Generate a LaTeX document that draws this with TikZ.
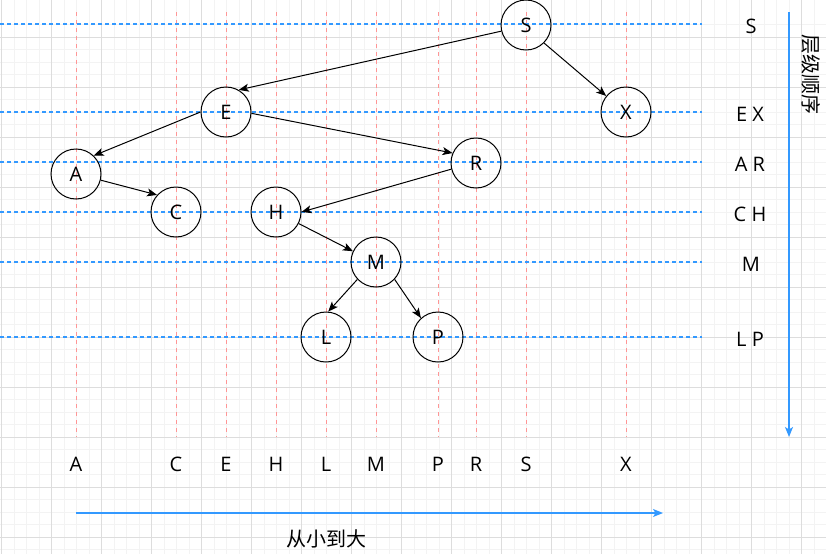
\documentclass[tikz,border=0pt]{standalone}
\usepackage{fontspec}
\setmainfont{Open Sans}
\newfontfamily\cjk{Noto Sans CJK SC}
\usetikzlibrary{arrows.meta}
\definecolor{gridmin}{RGB}{243,243,243}
\definecolor{gridmaj}{RGB}{221,221,221}
\definecolor{bluel}{RGB}{51,153,255}
\definecolor{redl}{RGB}{255,150,150}
\tikzset{
  tnode/.style={circle,draw=black,line width=1pt,minimum size=50pt,inner sep=0pt,font=\fontsize{20}{24}\selectfont},
  treeedge/.style={-{Stealth[length=10pt,width=8pt,inset=2.5pt]},line width=1pt},
  rowline/.style={draw=bluel,dash pattern=on 4pt off 3pt,line width=1.2pt},
  colline/.style={draw=redl,dash pattern=on 4pt off 4pt,line width=0.8pt},
  lbl/.style={font=\fontsize{20}{24}\selectfont,inner sep=0pt},
  cjklbl/.style={font=\cjk\fontsize{20}{24}\selectfont,inner sep=0pt},
  bluearrow/.style={draw=bluel,line width=1.2pt,-{Stealth[length=10pt,width=8pt,inset=2.5pt]},fill=bluel},
}
\begin{document}
\begin{tikzpicture}[x=1pt,y=-1pt]
\useasboundingbox (0,0) rectangle (826,554);
\fill[white] (0,0) rectangle (826,554);
% grid
\foreach \i in {0,...,66} {
  \draw[gridmin,line width=0.8pt] ({1.7+12.5*\i},0) -- ({1.7+12.5*\i},554);
}
\foreach \i in {-1,...,44} {
  \draw[gridmin,line width=0.8pt] (0,{37+12.5*\i}) -- (826,{37+12.5*\i});
}
\foreach \i in {0,...,16} {
  \draw[gridmaj,line width=0.8pt] ({1.7+50*\i},0) -- ({1.7+50*\i},554);
}
\foreach \i in {0,...,10} {
  \draw[gridmaj,line width=0.8pt] (0,{37+50*\i}) -- (826,{37+50*\i});
}
% column guides
\foreach \xc in {76,176,226,276,326,376,438,476,526,626} {
  \draw[colline] (\xc,12) -- (\xc,437);
}
% row guides
\draw[rowline] (0,24) -- (702,24);
\draw[rowline] (0,112) -- (702,112);
\draw[rowline] (0,162) -- (702,162);
\draw[rowline] (0,212) -- (702,212);
\draw[rowline] (0,262) -- (702,262);
\draw[rowline] (0,337) -- (702,337);
% tree nodes
\node[tnode] (S) at (526,25) {S};
\node[tnode] (E) at (226,112) {E};
\node[tnode] (X) at (626,112) {X};
\node[tnode] (A) at (76,174) {A};
\node[tnode] (R) at (476,163) {R};
\node[tnode] (C) at (176,212) {C};
\node[tnode] (H) at (276,212) {H};
\node[tnode] (M) at (376,262) {M};
\node[tnode] (L) at (326,337) {L};
\node[tnode] (P) at (438,337) {P};
% edges
\draw[treeedge] (S.194) -- (E.60);
\draw[treeedge] (S.-45) -- (X.141);
\draw[treeedge] (E.180) -- (A.46);
\draw[treeedge] (E.-3) -- (R.157);
\draw[treeedge] (A.-14) -- (C.138);
\draw[treeedge] (R.194) -- (H.0);
\draw[treeedge] (H.-27) -- (M.155);
\draw[treeedge] (M.-137) -- (L.85);
\draw[treeedge] (M.-43) -- (P.132);
% level labels
\node[lbl] (l1) at (751,26) {S};
\node[lbl] (l2) at (750,114) {E X};
\node[lbl] (l3) at (750,164) {A R};
\node[lbl] (l4) at (750,214) {C H};
\node[lbl] (l5) at (751,264) {M};
\node[lbl] (l6) at (750,339) {L P};
\coordinate (vtop) at (789,12);
\coordinate (vbot) at (789,437);
\draw[bluearrow] (vtop) -- (vbot);
\node[cjklbl,rotate=-90] (vtext) at (811,74) {层级顺序};
% sorted labels
\foreach \xc/\t in {76/A,176/C,226/E,276/H,326/L,376/M,438/P,476/R,526/S,626/X} {
  \node[lbl] (b\t) at (\xc,464.5) {\t};
}
\coordinate (hl) at (76,513);
\coordinate (hr) at (663,513);
\draw[bluearrow] (hl) -- (hr);
\node[cjklbl] (htext) at (326,539) {从小到大};
\end{tikzpicture}
\end{document}
